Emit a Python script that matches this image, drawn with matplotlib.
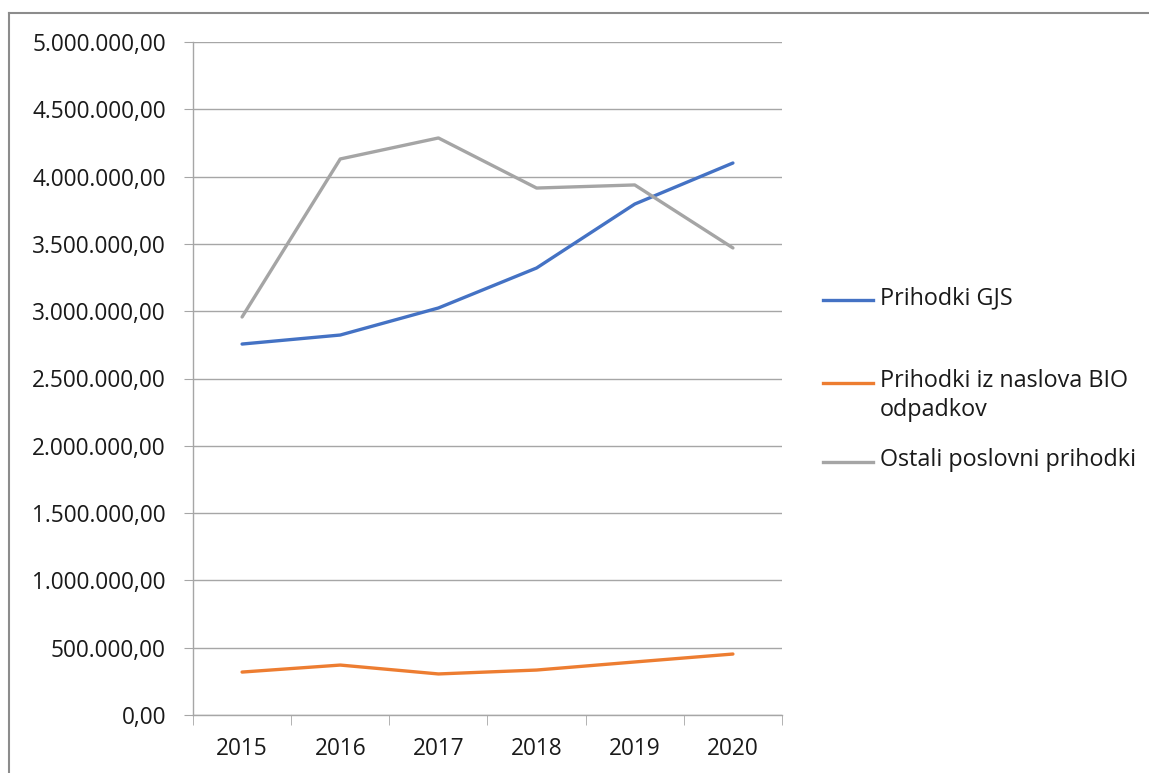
import matplotlib
matplotlib.use("Agg")
import matplotlib.pyplot as plt
from matplotlib.lines import Line2D
from matplotlib.ticker import FuncFormatter, FixedLocator

# data
years = ["2015", "2016", "2017", "2018", "2019", "2020"]
gjs = [2756000, 2823000, 3024000, 3321000, 3796000, 4101000]
bio = [319000, 371000, 305000, 334000, 394000, 453000]
ostali = [2957000, 4131000, 4287000, 3915000, 3938000, 3470000]

labels = ["Prihodki GJS", "Prihodki iz naslova BIO\nodpadkov", "Ostali poslovni prihodki"]
colors = ["#4472C4", "#ED7D31", "#A5A5A5"]
series = [gjs, bio, ostali]

plt.rcParams["font.family"] = ["Open Sans", "DejaVu Sans"]
W, H = 1149, 773
fig = plt.figure(figsize=(W / 100, H / 100), dpi=100)
ax = fig.add_axes([193 / W, 1 - 715 / H, (782 - 193) / W, (715 - 42) / H])

x = list(range(len(years)))
for vals, c in zip(series, colors):
    ax.plot(x, vals, color=c, linewidth=2.4, solid_capstyle="round", zorder=3)

ax.set_xlim(-0.5, len(years) - 0.5)
ax.set_ylim(0, 5000000)
ax.set_yticks(range(0, 5000001, 500000))


def fmt(v, pos):
    s = "{:,.2f}".format(v)
    return s.replace(",", "X").replace(".", ",").replace("X", ".")


ax.yaxis.set_major_formatter(FuncFormatter(fmt))
ax.set_xticks(x)
ax.set_xticklabels(years)
ax.xaxis.set_minor_locator(FixedLocator([i - 0.5 for i in range(len(years) + 1)]))

ax.grid(axis="y", color="#A6A6A6", linewidth=1)
ax.set_axisbelow(True)
for s in ["top", "right"]:
    ax.spines[s].set_visible(False)
for s in ["left", "bottom"]:
    ax.spines[s].set_color("#A6A6A6")
    ax.spines[s].set_linewidth(1)

txt = "#1a1a1a"
ax.tick_params(axis="y", length=6.5, color="#A6A6A6", pad=13, labelsize=16.3, labelcolor=txt)
ax.tick_params(axis="x", which="major", length=0, pad=16, labelsize=16.3, labelcolor=txt)
ax.tick_params(axis="x", which="minor", length=7.5, color="#A6A6A6")

# legend drawn by hand (Excel-like uneven layout)
leg_y = [300, 383, 462]
for lab, c, yy in zip(labels, colors, leg_y):
    fy = 1 - yy / H
    fig.add_artist(Line2D([823 / W, 873 / W], [fy, fy], color=c, linewidth=2.4))
    fig.text(880 / W, fy + 14 / H, lab, fontsize=16.8, color=txt, va="top",
             ha="left", linespacing=1.3)

# outer frame (top and left)
border = "#8C8C8C"
fig.add_artist(Line2D([9 / W, 1], [1 - 13 / H, 1 - 13 / H], color=border, linewidth=1.5))
fig.add_artist(Line2D([9 / W, 9 / W], [0, 1 - 13 / H], color=border, linewidth=1.5))

fig.savefig("out.png", dpi=100)
